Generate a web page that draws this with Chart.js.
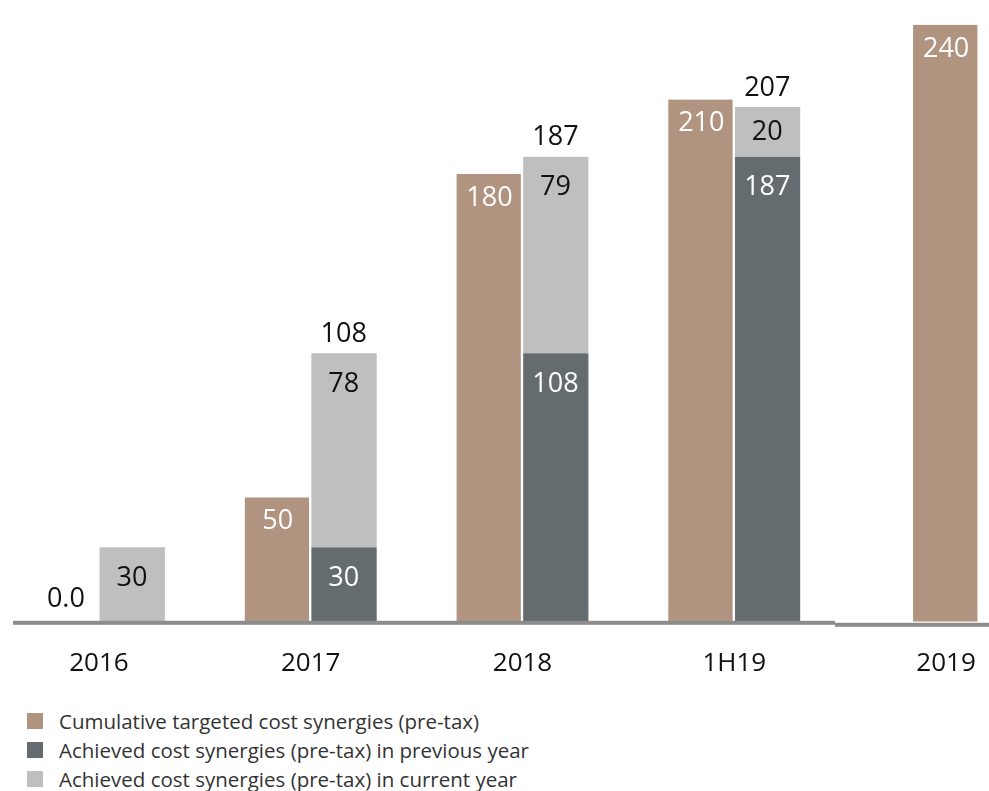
<!DOCTYPE html>
<html>
<head>
<meta charset="utf-8">
<script src="https://cdn.jsdelivr.net/npm/chart.js@4.4.0/dist/chart.umd.min.js"></script>
<style>
  body { margin: 0; background: #fff; font-family: "Open Sans", sans-serif; overflow: hidden; }
  #wrap { position: relative; width: 1059px; height: 705px; margin-left: -7px; }
  #legende { position: absolute; left: 27px; top: 706px; }
  .item { display: flex; align-items: center; height: 29px; font-size: 20.5px; font-weight: 400; color: #333; }
  .item span.box { width: 16px; height: 16px; margin-right: 16px; }
</style>
</head>
<body>
<div id="wrap"><canvas id="myChart"></canvas></div>
<div id="legende"></div>
<script>
// données
const years = ["2016", "2017", "2018", "1H19", "2019"];
const targeted = [0, 50, 180, 210, 240];
const achievedPrev = [null, 30, 108, 187, null];
const achievedCurrent = [30, 78, 79, 20, null];

const seriesNames = [
  "Cumulative targeted cost synergies (pre-tax)",
  "Achieved cost synergies (pre-tax) in previous year",
  "Achieved cost synergies (pre-tax) in current year"
];
const colors = ["#b09480", "#646c6f", "#bfbfbf"];

const fontFamily = "'Open Sans', 'Noto Sans', sans-serif";

// ligne de base grise sous les barres (le canvas est décalé de 7px à gauche)
const baseLine = {
  id: 'baseLine',
  afterDatasetsDraw(chart) {
    const c = chart.ctx;
    const y = chart.scales.y.getPixelForValue(0) + 1;
    c.save();
    c.fillStyle = "#8c8c8c";
    c.fillRect(20, y - 2, 822, 4);
    c.fillRect(842, y, chart.width - 842, 4);
    c.restore();
  }
};

// valeurs écrites sur les barres
const valueLabels = {
  id: 'valueLabels',
  afterDatasetsDraw(chart) {
    const c = chart.ctx;
    c.save();
    c.font = "400 27px " + fontFamily;
    c.textAlign = "center";
    c.textBaseline = "middle";

    chart.data.datasets.forEach((ds, di) => {
      const meta = chart.getDatasetMeta(di);
      meta.data.forEach((bar, i) => {
        const v = ds.data[i];
        if (v === null) return;
        if (v === 0) {
          c.fillStyle = "#111";
          c.fillText("0.0", bar.x, bar.y - 22);
          return;
        }
        const h = bar.base - bar.y;
        let off = di === 0 ? 24 : Math.min(31, h / 2);
        c.fillStyle = di === 2 ? "#111" : "#ffffff";
        c.fillText(String(v), bar.x, bar.y + off);
      });
    });

    // totaux au-dessus des barres empilées
    const top = chart.getDatasetMeta(2);
    years.forEach((y, i) => {
      if (achievedPrev[i] && achievedCurrent[i]) {
        const total = achievedPrev[i] + achievedCurrent[i];
        c.fillStyle = "#111";
        c.fillText(String(total), top.data[i].x, top.data[i].y - 19);
      }
    });
    c.restore();
  }
};

const ctx = document.getElementById('myChart');
const myChart = new Chart(ctx, {
  type: 'bar',
  data: {
    labels: years,
    datasets: [
      {
        label: seriesNames[0],
        data: targeted,
        backgroundColor: colors[0],
        borderColor: "#ffffff",
        borderWidth: { top: 0, left: 0, bottom: 0, right: 2 },
        stack: 'cible'
      },
      {
        label: seriesNames[1],
        data: achievedPrev,
        backgroundColor: colors[1],
        borderColor: "#ffffff",
        borderWidth: { top: 0, left: 1, bottom: 0, right: 0 },
        stack: 'realise'
      },
      {
        label: seriesNames[2],
        data: achievedCurrent,
        backgroundColor: colors[2],
        borderColor: "#ffffff",
        borderWidth: { top: 0, left: 1, bottom: 0, right: 0 },
        stack: 'realise'
      }
    ]
  },
  options: {
    responsive: true,
    maintainAspectRatio: false,
    animation: false,
    barThickness: 66,
    skipNull: true,
    layout: { padding: 0 },
    plugins: {
      legend: { display: false },
      tooltip: { enabled: false }
    },
    scales: {
      x: {
        grid: { display: false, drawTicks: false },
        border: { display: false },
        ticks: {
          padding: 26,
          color: "#111",
          font: { family: fontFamily, size: 26, weight: 400 }
        }
      },
      y: {
        display: false,
        stacked: true,
        min: 0,
        max: 250
      }
    }
  },
  plugins: [baseLine, valueLabels]
});

// légende verticale
const legende = document.getElementById('legende');
seriesNames.forEach((name, i) => {
  const div = document.createElement('div');
  div.className = 'item';
  div.innerHTML = '<span class="box" style="background:' + colors[i] + '"></span>' + name;
  legende.appendChild(div);
});
</script>
</body>
</html>
